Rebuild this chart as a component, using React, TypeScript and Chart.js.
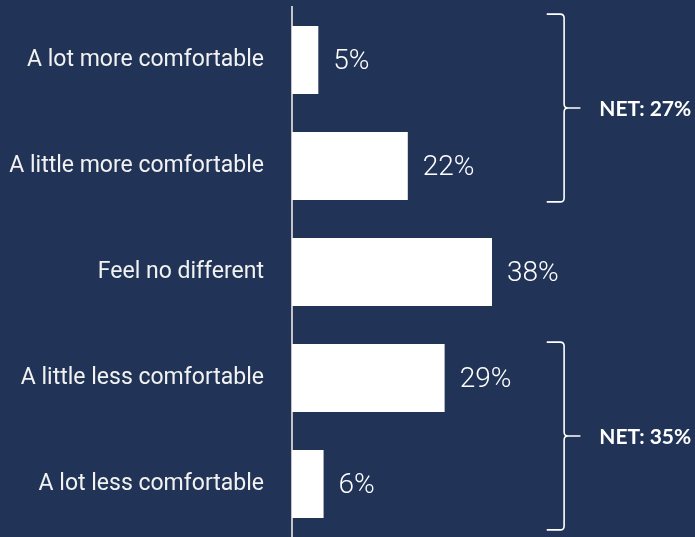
import { useEffect, useRef } from "react";
import { Chart, registerables } from "chart.js";

Chart.register(...registerables);

const categories = [
  "A lot more comfortable",
  "A little more comfortable",
  "Feel no different",
  "A little less comfortable",
  "A lot less comfortable",
];
const values = [5, 22, 38, 29, 6];
const netLabels = ["NET: 27%", "NET: 35%"];
const netRanges = [
  [0, 1],
  [3, 4],
];

const BG = "#213457";

const overlayPlugin = {
  id: "overlay",
  afterDatasetsDraw(chart: any) {
    const { ctx } = chart;
    const meta = chart.getDatasetMeta(0);
    const xs = chart.scales.x;
    ctx.save();
    // value labels
    ctx.fillStyle = "#ffffff";
    ctx.font = '300 28px "Roboto", sans-serif';
    ctx.textAlign = "left";
    ctx.textBaseline = "middle";
    meta.data.forEach((bar: any, i: number) => {
      ctx.fillText(values[i] + "%", bar.x + 15, bar.y + 2);
    });
    // braces
    const bx = xs.getPixelForValue(51.7);
    const tipL = xs.getPixelForValue(48.4);
    const tipR = xs.getPixelForValue(54.8);
    netRanges.forEach((r, k) => {
      const b0 = meta.data[r[0]];
      const b1 = meta.data[r[1]];
      const top = b0.y - b0.height / 2 - (k === 0 ? 12 : 2);
      const bottom = b1.y + b1.height / 2 + (k === 0 ? 2 : 12);
      const mid = (top + bottom) / 2;
      const c = 4;
      ctx.strokeStyle = "#ffffff";
      ctx.lineWidth = 1.6;
      ctx.beginPath();
      ctx.moveTo(tipL, top);
      ctx.lineTo(bx - c, top);
      ctx.quadraticCurveTo(bx, top, bx, top + c);
      ctx.lineTo(bx, mid - c);
      ctx.quadraticCurveTo(bx, mid, bx + c, mid);
      ctx.lineTo(tipR, mid);
      ctx.moveTo(bx + c, mid);
      ctx.quadraticCurveTo(bx, mid, bx, mid + c);
      ctx.lineTo(bx, bottom - c);
      ctx.quadraticCurveTo(bx, bottom, bx - c, bottom);
      ctx.lineTo(tipL, bottom);
      ctx.stroke();
      ctx.font = 'bold 21px "Lato", sans-serif';
      ctx.textBaseline = "middle";
      ctx.fillText(netLabels[k], xs.getPixelForValue(58.4), mid + 1);
    });
    ctx.restore();
  },
};

export default function App() {
  const ref = useRef<HTMLCanvasElement>(null);
  useEffect(() => {
    const chart = new Chart(ref.current!, {
      type: "bar",
      data: {
        labels: categories,
        datasets: [
          {
            data: values,
            backgroundColor: "#ffffff",
            borderWidth: 0,
            categoryPercentage: 0.64,
            barPercentage: 1,
          },
        ],
      },
      options: {
        indexAxis: "y",
        animation: false,
        responsive: false,
        devicePixelRatio: 1,
        layout: { padding: { top: 7, right: 3, bottom: 0, left: 0 } },
        plugins: {
          legend: { display: false },
          tooltip: { enabled: false },
        },
        scales: {
          x: { display: false, min: 0, max: 76 },
          y: {
            afterFit: (s: any) => {
              s.width = 292;
              s.paddingTop = 0;
              s.paddingBottom = 0;
            },
            grid: { display: false, drawTicks: false },
            border: { display: true, color: "#c4c4c4", width: 2 },
            ticks: {
              color: "#f2f2f2",
              padding: 28,
              font: { family: '"Roboto", sans-serif', size: 23 },
            },
          },
        },
      },
      plugins: [overlayPlugin],
    });
    return () => chart.destroy();
  }, []);
  return (
    <div style={{ position: "fixed", left: 0, top: 0, width: 695, height: 537, background: BG }}>
      <canvas ref={ref} width={695} height={537} style={{ display: "block" }} />
    </div>
  );
}
